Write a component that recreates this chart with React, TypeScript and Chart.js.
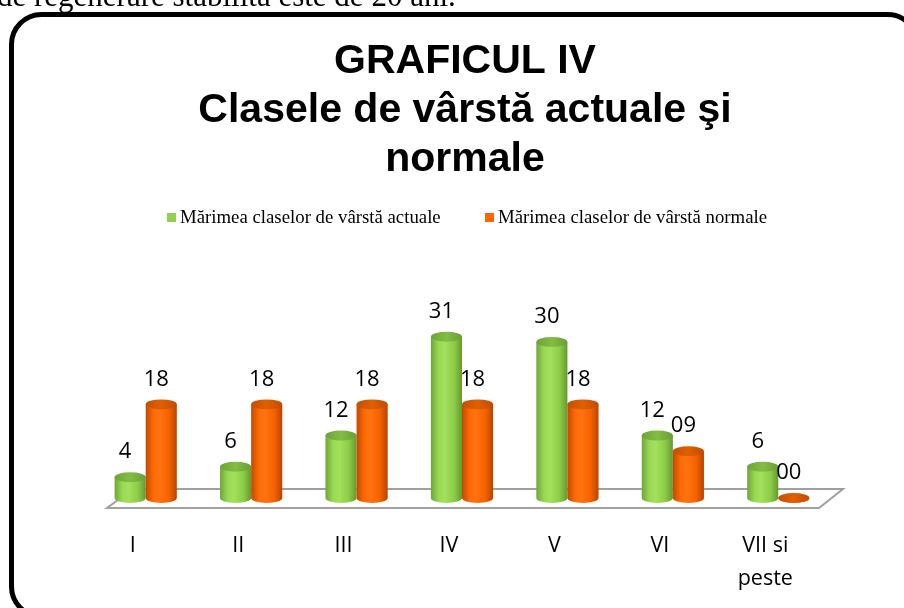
import React, { useEffect, useRef } from 'react';
import { Chart, registerables } from 'chart.js';

Chart.register(...registerables);

const pageLine = 'de regenerare stabilită este de 20 ani.';
const titleLines = ['GRAFICUL IV', 'Clasele de vârstă actuale şi', 'normale'];
const categories: (string | string[])[] = ['I', 'II', 'III', 'IV', 'V', 'VI', ['VII si', 'peste']];
const seriesNames = ['Mărimea claselor de vârstă actuale', 'Mărimea claselor de vârstă normale'];
const actualValues = [4, 6, 12, 31, 30, 12, 6];
const normalValues = [18, 18, 18, 18, 18, 9, 0];
const labelDigits = [1, 2];

const seriesColors = ['#92D050', '#FF6600'];
const bodyStops: [number, string][][] = [
  [[0, '#6fa635'], [0.25, '#9ad955'], [0.45, '#a3e05c'], [0.75, '#8ccc48'], [1, '#66992e']],
  [[0, '#c24a00'], [0.25, '#ff6a05'], [0.45, '#ff7310'], [0.75, '#f56200'], [1, '#b84400']],
];
const topStops: [number, string][][] = [
  [[0, '#6ea334'], [0.5, '#82bd44'], [1, '#6a9e32']],
  [[0, '#c45000'], [0.5, '#e06000'], [1, '#c04c00']],
];

function drawCylinder(ctx: CanvasRenderingContext2D, cx: number, top: number, base: number, w: number, idx: number) {
  const rx = w / 2;
  const ry = 5;
  const left = cx - rx;
  const right = cx + rx;
  const g = ctx.createLinearGradient(left, 0, right, 0);
  bodyStops[idx].forEach(([o, c]) => g.addColorStop(o, c));
  ctx.beginPath();
  ctx.moveTo(left, top);
  ctx.lineTo(left, base);
  ctx.ellipse(cx, base, rx, ry, 0, Math.PI, 0, true);
  ctx.lineTo(right, top);
  ctx.closePath();
  ctx.fillStyle = g;
  ctx.fill();
  const tg = ctx.createLinearGradient(left, 0, right, 0);
  topStops[idx].forEach(([o, c]) => tg.addColorStop(o, c));
  ctx.beginPath();
  ctx.ellipse(cx, top, rx, ry, 0, 0, Math.PI * 2);
  ctx.fillStyle = tg;
  ctx.fill();
}

const decorPlugin = {
  id: 'decor',
  beforeDraw(chart: any) {
    const ctx: CanvasRenderingContext2D = chart.ctx;
    ctx.save();
    ctx.fillStyle = '#000';
    ctx.font = '31px "Liberation Serif", "Times New Roman", serif';
    ctx.textAlign = 'left';
    ctx.textBaseline = 'alphabetic';
    ctx.fillText(pageLine, -3, 6);
    ctx.beginPath();
    (ctx as any).roundRect(11.5, 14.5, 906, 602, 30);
    ctx.lineWidth = 5;
    ctx.strokeStyle = '#000';
    ctx.stroke();
    ctx.font = 'bold 41px "Liberation Sans", Arial, sans-serif';
    ctx.textAlign = 'center';
    titleLines.forEach((t, i) => ctx.fillText(t, 465, 73 + i * 49));
    ctx.font = '18.8px "Liberation Serif", "Times New Roman", serif';
    ctx.textAlign = 'left';
    ctx.textBaseline = 'middle';
    const lx = [167, 485];
    chart.data.datasets.forEach((ds: any, i: number) => {
      ctx.fillStyle = seriesColors[i];
      ctx.fillRect(lx[i], 213, 9, 9);
      ctx.fillStyle = '#000';
      ctx.fillText(ds.label, lx[i] + 13, 218);
    });
    ctx.restore();
  },
  beforeDatasetsDraw(chart: any) {
    const ctx: CanvasRenderingContext2D = chart.ctx;
    const { left, right } = chart.chartArea;
    const base = chart.scales.y.getPixelForValue(0);
    ctx.save();
    ctx.beginPath();
    ctx.moveTo(left + 14, base + 10);
    ctx.lineTo(right - 12, base + 10);
    ctx.lineTo(right + 12, base - 9);
    ctx.lineTo(left + 40, base - 9);
    ctx.closePath();
    ctx.lineWidth = 2;
    ctx.strokeStyle = '#a0a0a0';
    ctx.stroke();
    ctx.restore();
  },
  afterDatasetsDraw(chart: any) {
    const ctx: CanvasRenderingContext2D = chart.ctx;
    ctx.save();
    const n = chart.data.labels.length;
    for (let i = 0; i < n; i++) {
      chart.data.datasets.forEach((ds: any, d: number) => {
        const bar = chart.getDatasetMeta(d).data[i];
        drawCylinder(ctx, bar.x, bar.y, bar.base, bar.width, d);
      });
    }
    ctx.font = '22px "Open Sans", sans-serif';
    ctx.fillStyle = '#000';
    ctx.textAlign = 'center';
    ctx.textBaseline = 'middle';
    chart.data.datasets.forEach((ds: any, d: number) => {
      chart.getDatasetMeta(d).data.forEach((bar: any, i: number) => {
        const txt = String(ds.data[i]).padStart(labelDigits[d], '0');
        ctx.fillText(txt, bar.x - 5, bar.y - 25);
      });
    });
    ctx.restore();
  },
};

export default function App() {
  const ref = useRef<HTMLCanvasElement>(null);
  useEffect(() => {
    if (!ref.current) return;
    const chart = new Chart(ref.current, {
      type: 'bar',
      data: {
        labels: categories,
        datasets: [
          { label: seriesNames[0], data: actualValues, backgroundColor: 'rgba(0,0,0,0)' },
          { label: seriesNames[1], data: normalValues, backgroundColor: 'rgba(0,0,0,0)' },
        ],
      },
      options: {
        responsive: false,
        animation: false,
        devicePixelRatio: 1,
        datasets: { bar: { categoryPercentage: 0.59, barPercentage: 1 } },
        layout: { padding: { left: 93, right: 73, top: 290, bottom: 0 } },
        plugins: { legend: { display: false }, title: { display: false }, tooltip: { enabled: false } },
        scales: {
          x: {
            grid: { display: false, drawTicks: false },
            border: { display: false },
            ticks: {
              color: '#000',
              font: { family: '"Open Sans", sans-serif', size: 21.5, lineHeight: 1.52 },
              padding: 32,
              labelOffset: -13,
              maxRotation: 0,
              autoSkip: false,
            },
            afterFit: (s: any) => { s.height = 110; },
          },
          y: { display: false, min: 0, max: 40 },
        },
      },
      plugins: [decorPlugin],
    });
    return () => chart.destroy();
  }, []);
  return (
    <div style={{ position: 'fixed', left: 0, top: 0, width: 904, height: 608, background: '#fff' }}>
      <canvas ref={ref} width={904} height={608} style={{ display: 'block' }} />
    </div>
  );
}
